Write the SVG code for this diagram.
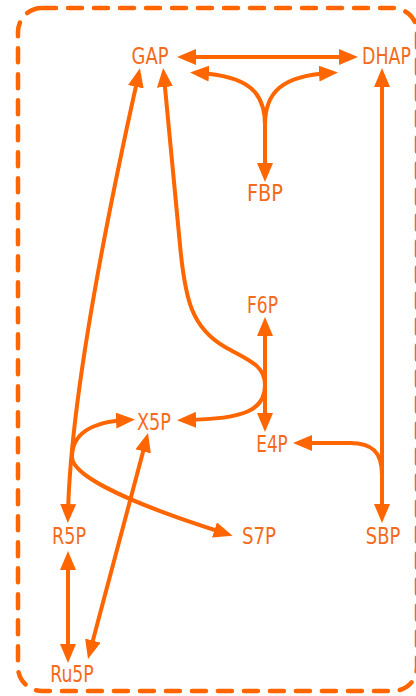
<svg xmlns="http://www.w3.org/2000/svg" width="416" height="696" viewBox="0 0 416 696">
<style>
.lbl{font-family:"DejaVu Sans Condensed","DejaVu Sans",sans-serif;font-stretch:condensed;font-size:23px;fill:#f36b1c;text-anchor:middle;}
.c{fill:none;stroke:#ff6600;stroke-width:4;}
.frame{fill:none;stroke:#ff6600;stroke-width:4.5;stroke-dasharray:14 12;stroke-linecap:round;}
</style>
<defs>
<marker id="ah" viewBox="0 0 19 16" refX="10" refY="8" markerWidth="19" markerHeight="16" markerUnits="userSpaceOnUse" orient="auto-start-reverse">
<path d="M0,0 L19,8 L0,16 z" fill="#ff6600"/>
</marker>
</defs>
<rect class="frame" x="18" y="8" width="399" height="683" rx="24" ry="24"/>
<g id="connectors">
<path class="c" d="M186,57 L349,57" marker-start="url(#ah)" marker-end="url(#ah)"/>
<path class="c" d="M265,173 L265,125 C265,92 248,76 199,73" marker-start="url(#ah)" marker-end="url(#ah)"/>
<path class="c" d="M265,125 C265,92 282,76 329,73" marker-end="url(#ah)"/>
<path class="c" d="M68,514 C70,420 95,270 138,77" marker-start="url(#ah)" marker-end="url(#ah)"/>
<path class="c" d="M126,420 C90,422 72,435 72,457 C72,472 110,497 224,533" marker-start="url(#ah)" marker-end="url(#ah)"/>
<path class="c" d="M164,77 L180,245 C185,300 192,328 225,347 C248,360 265,365 265,385 C265,410 245,419 186,420" marker-start="url(#ah)" marker-end="url(#ah)"/>
<path class="c" d="M265,326 L265,423" marker-start="url(#ah)" marker-end="url(#ah)"/>
<path class="c" d="M382,77 L382,514" marker-start="url(#ah)" marker-end="url(#ah)"/>
<path class="c" d="M382,475 C382,452 372,443 350,443 L302,443" marker-end="url(#ah)"/>
<path class="c" d="M145.7,441.7 L90.3,650.3" marker-start="url(#ah)" marker-end="url(#ah)"/>
<path class="c" d="M68,560 L68,654" marker-start="url(#ah)" marker-end="url(#ah)"/>
</g>
<g id="GAP"><text class="lbl" x="150" y="63.5" textLength="37" lengthAdjust="spacingAndGlyphs">GAP</text></g>
<g id="DHAP"><text class="lbl" transform="translate(386.5,63.5) scale(0.84,1)" x="0" y="0">DHAP</text></g>
<g id="FBP"><text class="lbl" x="265" y="201" textLength="36" lengthAdjust="spacingAndGlyphs">FBP</text></g>
<g id="F6P"><text class="lbl" x="262.5" y="313" textLength="31" lengthAdjust="spacingAndGlyphs">F6P</text></g>
<g id="X5P"><text class="lbl" x="154" y="430" textLength="34" lengthAdjust="spacingAndGlyphs">X5P</text></g>
<g id="E4P"><text class="lbl" x="272" y="451.5" textLength="31.5" lengthAdjust="spacingAndGlyphs">E4P</text></g>
<g id="R5P"><text class="lbl" x="69" y="543.5" textLength="34" lengthAdjust="spacingAndGlyphs">R5P</text></g>
<g id="S7P"><text class="lbl" x="259" y="543.5" textLength="34" lengthAdjust="spacingAndGlyphs">S7P</text></g>
<g id="SBP"><text class="lbl" x="383" y="543.5" textLength="34.5" lengthAdjust="spacingAndGlyphs">SBP</text></g>
<g id="Ru5P"><text class="lbl" x="72" y="682" textLength="43.5" lengthAdjust="spacingAndGlyphs">Ru5P</text></g>
</svg>
